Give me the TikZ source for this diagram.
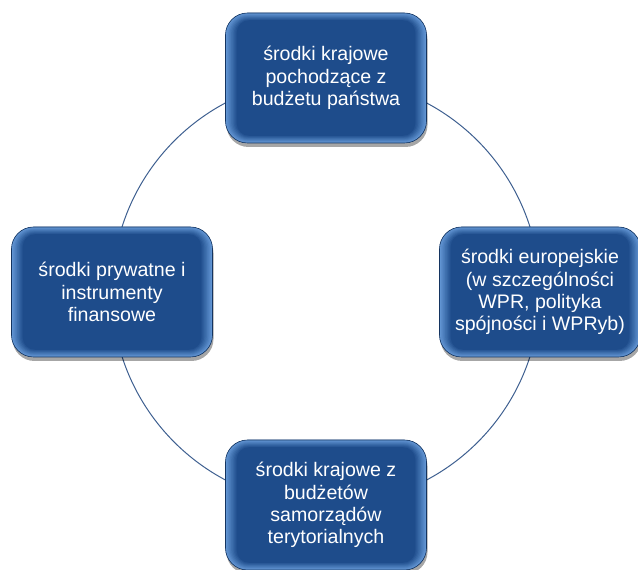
\documentclass[tikz,border=0pt]{standalone}
\usepackage{fontspec}
\setmainfont{Liberation Sans}
\usetikzlibrary{shadows,backgrounds,calc}
\definecolor{boxbase}{HTML}{1C4A89}
\definecolor{boxedge}{HTML}{6A9EDC}
\definecolor{ringcol}{HTML}{3E5F90}
\tikzset{
  fundbox/.style={rounded corners=22pt, minimum width=201pt, minimum height=130pt,
    fill=boxbase, draw=boxbase!70!black, line width=0.6pt, text=white,
    font=\fontsize{19.6}{22.2}\selectfont, align=center,
    drop shadow={shadow xshift=1pt, shadow yshift=-4pt, opacity=0.35, fill=black},
    path picture={
      \foreach \i in {0,...,8}{
        \pgfmathtruncatemacro\mix{90-\i*11}
        \pgfmathsetmacro\hx{\i*1.4}
        \pgfmathsetmacro\vy{\i*0.9}
        \pgfmathsetmacro\rc{22-\i*1.2}
        \fill[boxedge!\mix!boxbase, rounded corners=\rc pt]
          ($(path picture bounding box.south west)+(\hx pt,\vy pt)$) rectangle
          ($(path picture bounding box.north east)-(\hx pt,\vy pt)$);
      }
    }},
  ring/.style={draw=ringcol, line width=1pt}
}
\begin{document}
\begin{tikzpicture}[x=1pt,y=1pt]
\useasboundingbox (0,0) rectangle (638,570);
\node[fundbox] (top) at (326,492) {środki krajowe\\pochodzące z\\budżetu państwa};
\node[fundbox] (right) at (540,278) {środki europejskie\\(w szczególności\\WPR, polityka\\spójności i WPRyb)};
\node[fundbox] (left) at (112,278) {środki prywatne i\\instrumenty\\finansowe};
\node[fundbox] (bottom) at (326,65) {środki krajowe z\\budżetów\\samorządów\\terytorialnych};
\begin{scope}[on background layer]
\draw[ring] (top.center) to[out=0,in=90] (right.center);
\draw[ring] (right.center) to[out=-90,in=0] (bottom.center);
\draw[ring] (bottom.center) to[out=180,in=-90] (left.center);
\draw[ring] (left.center) to[out=90,in=180] (top.center);
\end{scope}
\end{tikzpicture}
\end{document}
